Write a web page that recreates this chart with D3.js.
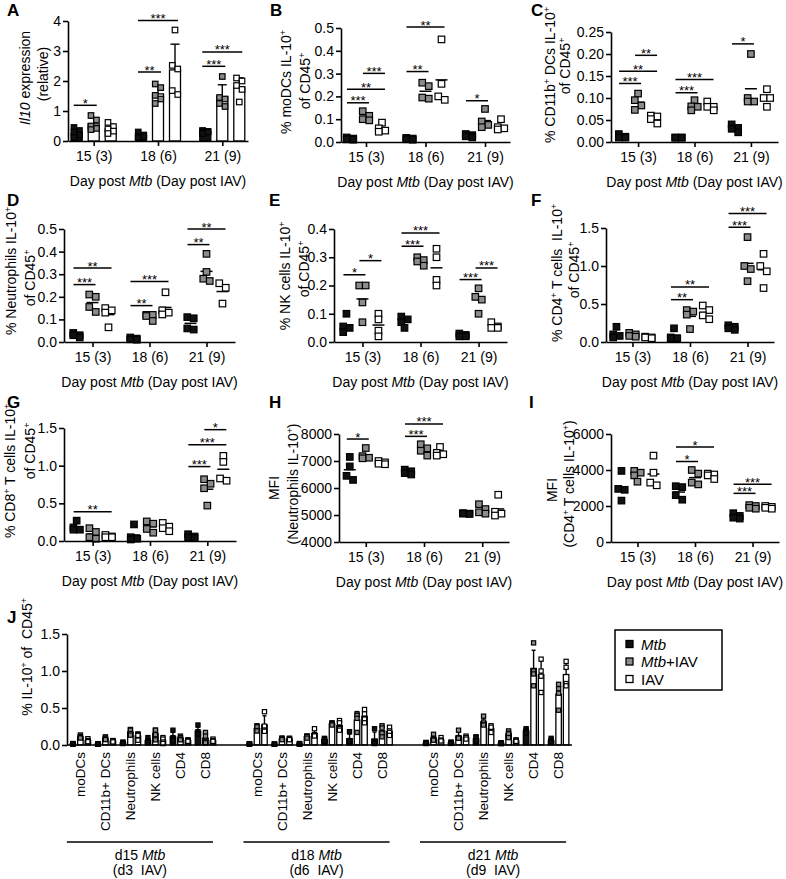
<!DOCTYPE html>
<html><head><meta charset="utf-8">
<script src="https://cdn.jsdelivr.net/npm/d3@7/dist/d3.min.js"></script>
<style>html,body{margin:0;padding:0;background:#fff}svg{display:block}</style>
</head><body>
<svg id="fig" width="786" height="879" xmlns="http://www.w3.org/2000/svg"></svg>
<script>
// ---------- categories / ticks ----------
const days = ["15 (3)", "18 (6)", "21 (9)"];
const groupNames = ["Mtb", "Mtb+IAV", "IAV"];
const cellTypes = ["moDCs", "CD11b+ DCs", "Neutrophils", "NK cells", "CD4", "CD8"];
const ticksA = [0, 1, 2, 3, 4];
const ticksB = [0, 0.1, 0.2, 0.3, 0.4, 0.5];
const ticksC = [0, 0.05, 0.10, 0.15, 0.20, 0.25];
const ticksD = [0, 0.1, 0.2, 0.3, 0.4, 0.5];
const ticksE = [0, 0.1, 0.2, 0.3, 0.4];
const ticksF = [0, 0.5, 1.0, 1.5];
const ticksG = [0, 0.5, 1.0, 1.5];
const ticksH = [4000, 5000, 6000, 7000, 8000];
const ticksI = [0, 2000, 4000, 6000];
const ticksJ = [0, 0.5, 1.0, 1.5];

// ---------- data: per day [15(3), 18(6), 21(9)] -> replicate values ----------
// A: Il10 expression (relative)
const il10_Mtb    = [[0.45,0.35,0.3,0.2,0.12],[0.3,0.2,0.15,0.12,0.15],[0.35,0.3,0.3,0.25,0.32]];
const il10_MtbIAV = [[0.85,0.7,0.5,0.42,0.38],[1.9,1.78,1.52,1.25,1.4],[2.15,1.45,1.4,1.25,1.15]];
const il10_IAV    = [[0.62,0.48,0.4,0.33,0.25],[3.7,2.52,2.4,1.68,1.55],[2.1,2.0,1.85,1.72,1.3]];
// B: % moDCs IL-10+ of CD45+
const mo_Mtb    = [[0.01,0.015,0.02,0.012],[0.015,0.012,0.01,0.018],[0.02,0.03,0.035,0.025]];
const mo_MtbIAV = [[0.135,0.115,0.1,0.095],[0.26,0.245,0.195,0.19],[0.145,0.09,0.075,0.065]];
const mo_IAV    = [[0.085,0.06,0.05,0.045],[0.45,0.255,0.2,0.185],[0.1,0.065,0.06,0.055]];
// C: % CD11b+ DCs IL-10+ of CD45+
const cd11_Mtb    = [[0.01,0.012,0.018,0.01],[0.01,0.01,0.01,0.01],[0.04,0.032,0.03,0.022]];
const cd11_MtbIAV = [[0.11,0.095,0.083,0.073],[0.095,0.081,0.08,0.072],[0.2,0.1,0.092,0.092]];
const cd11_IAV    = [[0.06,0.058,0.052,0.042],[0.092,0.08,0.08,0.072],[0.12,0.1,0.1,0.08]];
// D: % Neutrophils IL-10+ of CD45+
const neu_Mtb    = [[0.04,0.03,0.03,0.02],[0.01,0.015,0.02,0.012],[0.11,0.105,0.06,0.055]];
const neu_MtbIAV = [[0.21,0.2,0.155,0.133],[0.12,0.12,0.115,0.093],[0.39,0.31,0.28,0.27]];
const neu_IAV    = [[0.15,0.14,0.13,0.065],[0.22,0.14,0.13,0.122],[0.26,0.24,0.17]];
// E: % NK cells IL-10+ of CD45+
const nk_Mtb    = [[0.1,0.055,0.05,0.035],[0.09,0.08,0.07,0.05],[0.03,0.02,0.02,0.025]];
const nk_MtbIAV = [[0.2,0.2,0.14,0.07],[0.3,0.29,0.285,0.27],[0.19,0.16,0.15,0.1]];
const nk_IAV    = [[0.1,0.08,0.04,0.02],[0.33,0.3,0.22,0.2],[0.07,0.055,0.05,0.05]];
// F: % CD4+ T cells IL-10+ of CD45+
const cd4_Mtb    = [[0.2,0.1,0.08,0.06],[0.18,0.06,0.05,0.05],[0.22,0.2,0.18,0.16]];
const cd4_MtbIAV = [[0.12,0.1,0.08,0.07],[0.42,0.4,0.36,0.17],[1.38,1.0,0.96,0.8]];
const cd4_IAV    = [[0.07,0.06,0.06,0.05],[0.48,0.42,0.35,0.3],[1.16,1.0,0.93,0.71]];
// G: % CD8+ T cells IL-10+ of CD45+
const cd8_Mtb    = [[0.27,0.18,0.15,0.15],[0.22,0.05,0.03,0.02],[0.09,0.06,0.05,0.04]];
const cd8_MtbIAV = [[0.17,0.12,0.05,0.03],[0.26,0.23,0.16,0.11],[0.82,0.76,0.7,0.47]];
const cd8_IAV    = [[0.08,0.06,0.05,0.05],[0.24,0.19,0.17,0.13],[1.13,1.05,0.83,0.8]];
// H: MFI (Neutrophils IL-10+)
const mfiNeu_Mtb    = [[7150,6800,6450,6300],[6680,6620,6550,6500],[5070,5050,5050,5040]];
const mfiNeu_MtbIAV = [[7480,7180,7120,7100],[7620,7470,7380,7200],[5400,5220,5100,5050]];
const mfiNeu_IAV    = [[7000,6950,6900,6880],[7520,7300,7250,7200],[5750,5120,5050,4980]];
// I: MFI (CD4+ T cells IL-10+)
const mfiCd4_Mtb    = [[3950,2950,2900,2300],[3100,3050,2600,2350],[1600,1450,1350,1300]];
const mfiCd4_MtbIAV = [[3950,3850,3700,3350],[4000,3800,3300,3200],[2050,2000,1900,1850]];
const mfiCd4_IAV    = [[4800,3850,3300,3150],[3800,3750,3700,3500],[2000,1950,1900,1850]];

// significance: [dayIndex, fromGroup, toGroup, level (data units), label]
const sigA = [[0,0,1,1.19,"*"],[1,0,1,2.3,"**"],[1,0,2,4.02,"***"],[2,0,1,2.49,"***"],[2,0,2,2.97,"***"]];
const sigB = [[0,0,1,0.172,"***"],[0,0,2,0.231,"**"],[0,1,2,0.301,"***"],[1,0,1,0.309,"**"],[1,0,2,0.504,"**"],[2,0,1,0.181,"*"]];
const sigC = [[0,0,1,0.133,"***"],[0,0,2,0.161,"**"],[0,1,2,0.197,"**"],[1,0,1,0.112,"***"],[1,0,2,0.142,"***"],[2,0,1,0.223,"*"]];
const sigD = [[0,0,1,0.254,"***"],[0,0,2,0.327,"**"],[1,0,1,0.161,"**"],[1,0,2,0.268,"***"],[2,0,1,0.431,"**"],[2,0,2,0.5,"**"]];
const sigE = [[0,0,1,0.238,"*"],[0,1,2,0.288,"*"],[1,0,1,0.339,"***"],[1,0,2,0.386,"***"],[2,0,1,0.221,"***"],[2,1,2,0.262,"***"]];
const sigF = [[1,0,1,0.557,"**"],[1,0,2,0.724,"**"],[2,0,1,1.51,"***"],[2,0,2,1.69,"***"]];
const sigG = [[0,0,2,0.387,"**"],[2,0,1,0.988,"***"],[2,0,2,1.277,"***"],[2,1,2,1.478,"*"]];
const sigH = [[0,0,1,7814,"*"],[1,0,1,7913,"***"],[1,0,2,8373,"***"]];
const sigI = [[1,0,1,4472,"*"],[1,0,2,5273,"*"],[2,0,1,2702,"***"],[2,0,2,3205,"***"]];

// J groups (bottom labels)
const jGroupLabels = [["d15 ","Mtb","(d3  IAV)"],["d18 ","Mtb","(d6  IAV)"],["d21 ","Mtb","(d9  IAV)"]];

// ---------- rendering ----------
const FONT = "'Liberation Sans', Arial, Helvetica, sans-serif";
const FS = 14;
const fills = ["#111", "#8c8c8c", "#ffffff"];
const svg = d3.select("#fig").attr("font-family", FONT);

function rich(textSel, segs, size) {
  segs.forEach((s, i) => {
    const t = textSel.append("tspan").text(s.t);
    if (s.i) t.attr("font-style", "italic");
    if (s.sup) t.attr("dy", -size * 0.38).attr("font-size", size * 0.62);
    else if (i > 0 && segs[i - 1].sup) t.attr("dy", size * 0.38);
  });
}
function styleAxis(a) {
  a.attr("font-size", null).attr("font-family", null);
  a.select(".domain").attr("stroke", "#000").attr("stroke-width", 1.6);
  a.selectAll(".tick line").attr("stroke", "#000").attr("stroke-width", 1.6);
  a.selectAll(".tick text").attr("font-size", FS).attr("fill", "#000");
}
function swarm(vals, y, cx, size) {
  const order = vals.map(v => ({ py: y(v) })).sort((a, b) => a.py - b.py);
  const clusters = []; let cur = [];
  order.forEach(o => {
    if (cur.length && o.py - cur[cur.length - 1].py > size * 0.85) { clusters.push(cur); cur = []; }
    cur.push(o);
  });
  if (cur.length) clusters.push(cur);
  const out = [];
  clusters.forEach(c => {
    if (c.length === 1) out.push([cx, c[0].py]);
    else c.forEach((o, k) => out.push([cx + (k % 2 ? 1 : -1) * size * 0.5, o.py]));
  });
  return out;
}
function points(g, pts, s, size) {
  g.selectAll(null).data(pts).enter().append("rect")
    .attr("x", d => d[0] - size / 2).attr("y", d => d[1] - size / 2)
    .attr("width", size).attr("height", size)
    .attr("fill", fills[s]).attr("stroke", "#000").attr("stroke-width", 1.2);
}
function barSet(g, cx, vals, y, s, o) {
  const m = d3.mean(vals), sd = d3.deviation(vals) || 0;
  const y0 = y(y.domain()[0]);
  g.append("rect").attr("x", cx - o.bw / 2).attr("y", y(m)).attr("width", o.bw).attr("height", y0 - y(m))
    .attr("fill", s === 0 ? "#111" : "#fff").attr("stroke", "#000").attr("stroke-width", 1.3);
  g.append("line").attr("x1", cx).attr("x2", cx).attr("y1", y(m)).attr("y2", y(m + sd)).attr("stroke", "#000").attr("stroke-width", 1.4);
  g.append("line").attr("x1", cx - o.cap / 2).attr("x2", cx + o.cap / 2).attr("y1", y(m + sd)).attr("y2", y(m + sd)).attr("stroke", "#000").attr("stroke-width", 1.4);
  const pts = o.jitter ? swarm(vals, y, cx, o.pt) : vals.map(v => [cx, y(v)]);
  points(g, pts, s, o.pt);
}
function scatterSet(g, cx, vals, y, s) {
  const m = d3.mean(vals);
  g.append("line").attr("x1", cx - 6).attr("x2", cx + 6).attr("y1", y(m)).attr("y2", y(m)).attr("stroke", "#000").attr("stroke-width", 1.5);
  points(g, swarm(vals, y, cx, 6.5), s, 6.5);
}

const panels = [
  { id: "A", lx: 7, ly: 16, x0: 68, x1: 248, yTop: 21, yBot: 141, dom: [0, 4], ticks: ticksA, fmt: "d", pad: 0.4, kind: "bar",
    series: [il10_Mtb, il10_MtbIAV, il10_IAV], sig: sigA,
    t1: [{ t: "Il10", i: true }, { t: " expression" }], t2: [{ t: "(relative)" }], tx1: 25, ty1: 78, tx2: 43, ty2: 74 },
  { id: "B", lx: 270, ly: 16, x0: 341, x1: 510, yTop: 28, yBot: 142, dom: [0, 0.5], ticks: ticksB, fmt: ".1f", pad: 0.42,
    series: [mo_Mtb, mo_MtbIAV, mo_IAV], sig: sigB,
    t1: [{ t: "% moDCs IL-10" }, { t: "+", sup: true }], t2: [{ t: "of CD45" }, { t: "+", sup: true }], tx1: 286, ty1: 82, tx2: 305, ty2: 81 },
  { id: "C", lx: 531, ly: 16, x0: 611, x1: 778, yTop: 32, yBot: 142, dom: [0, 0.25], ticks: ticksC, fmt: ".2f", pad: 0.48,
    series: [cd11_Mtb, cd11_MtbIAV, cd11_IAV], sig: sigC,
    t1: [{ t: "% CD11b" }, { t: "+", sup: true }, { t: " DCs IL-10" }, { t: "+", sup: true }], t2: [{ t: "of CD45" }, { t: "+", sup: true }], tx1: 550, ty1: 75, tx2: 565, ty2: 66 },
  { id: "D", lx: 7, ly: 206, x0: 64, x1: 235, yTop: 229, yBot: 342, dom: [0, 0.5], ticks: ticksD, fmt: ".1f", pad: 0.5,
    series: [neu_Mtb, neu_MtbIAV, neu_IAV], sig: sigD,
    t1: [{ t: "% Neutrophils IL-10" }, { t: "+", sup: true }], t2: [{ t: "of CD45" }, { t: "+", sup: true }], tx1: 11, ty1: 271, tx2: 30, ty2: 278 },
  { id: "E", lx: 269, ly: 206, x0: 334, x1: 507, yTop: 229, yBot: 342, dom: [0, 0.4], ticks: ticksE, fmt: ".1f", pad: 0.49,
    series: [nk_Mtb, nk_MtbIAV, nk_IAV], sig: sigE,
    t1: [{ t: "% NK cells IL-10" }, { t: "+", sup: true }], t2: [{ t: "of CD45" }, { t: "+", sup: true }], tx1: 285, ty1: 276, tx2: 304, ty2: 269 },
  { id: "F", lx: 531, ly: 206, x0: 606, x1: 774, yTop: 228, yBot: 342, dom: [0, 1.5], ticks: ticksF, fmt: ".1f", pad: 0.46,
    series: [cd4_Mtb, cd4_MtbIAV, cd4_IAV], sig: sigF,
    t1: [{ t: "% CD4" }, { t: "+", sup: true }, { t: " T cells  IL-10" }, { t: "+", sup: true }], t2: [{ t: "of CD45" }, { t: "+", sup: true }], tx1: 557, ty1: 273, tx2: 574, ty2: 270 },
  { id: "G", lx: 7, ly: 408, x0: 64, x1: 236, yTop: 428, yBot: 541, dom: [0, 1.5], ticks: ticksG, fmt: ".1f", pad: 0.5,
    series: [cd8_Mtb, cd8_MtbIAV, cd8_IAV], sig: sigG,
    t1: [{ t: "% CD8" }, { t: "+", sup: true }, { t: " T cells IL-10" }, { t: "+", sup: true }], t2: [{ t: "of CD45" }, { t: "+", sup: true }], tx1: 10, ty1: 471, tx2: 30, ty2: 451 },
  { id: "H", lx: 269, ly: 408, x0: 339, x1: 509, yTop: 434, yBot: 542, dom: [4000, 8000], ticks: ticksH, fmt: "d", pad: 0.46,
    series: [mfiNeu_Mtb, mfiNeu_MtbIAV, mfiNeu_IAV], sig: sigH,
    t1: [{ t: "MFI" }], t2: [{ t: "(Neutrophils IL-10" }, { t: "+", sup: true }, { t: ")" }], tx1: 274, ty1: 488, tx2: 293, ty2: 484 },
  { id: "I", lx: 529, ly: 408, x0: 611, x1: 779, yTop: 434, yBot: 542, dom: [0, 6000], ticks: ticksI, fmt: "d", pad: 0.46,
    series: [mfiCd4_Mtb, mfiCd4_MtbIAV, mfiCd4_IAV], sig: sigI,
    t1: [{ t: "MFI" }], t2: [{ t: "(CD4" }, { t: "+", sup: true }, { t: " T cells IL-10" }, { t: "+", sup: true }, { t: ")" }], tx1: 552, ty1: 490, tx2: 569, ty2: 484 }
];

// rotated title: measured and centred explicitly on (x, y)
function yTitle(g, segs, x, y) {
  const t = g.append("text").attr("transform", `translate(${x},${y}) rotate(-90)`)
    .attr("text-anchor", "start").attr("font-size", FS).attr("fill", "#000")
    .style("white-space", "pre");
  rich(t, segs, FS);
  const len = t.node().getComputedTextLength();
  t.attr("x", -len / 2).attr("y", FS * 0.36);
}
function letter(id, x, y) {
  svg.append("text").attr("x", x).attr("y", y).attr("font-size", 17).attr("font-weight", "bold").attr("fill", "#000").text(id);
}

panels.forEach(P => {
  const g = svg.append("g");
  const x = d3.scalePoint().domain(days).range([P.x0, P.x1]).padding(P.pad);
  const y = d3.scaleLinear().domain(P.dom).range([P.yBot, P.yTop]);
  letter(P.id, P.lx, P.ly);
  const off = P.kind === "bar" ? 17 : 16;

  P.series.forEach((arr, s) => arr.forEach((vals, d) => {
    const cx = x(days[d]) + (s - 1) * off;
    if (P.kind === "bar") barSet(g, cx, vals, y, s, { bw: 11, cap: 9, pt: 5.5, jitter: true });
    else scatterSet(g, cx, vals, y, s);
  }));

  const ya = g.append("g").attr("transform", `translate(${P.x0},0)`)
    .call(d3.axisLeft(y).tickValues(P.ticks).tickFormat(d3.format(P.fmt)).tickSize(5).tickSizeOuter(0).tickPadding(2));
  styleAxis(ya);
  const xa = g.append("g").attr("transform", `translate(0,${P.yBot})`)
    .call(d3.axisBottom(x).tickSize(5).tickSizeOuter(0).tickPadding(5));
  styleAxis(xa);

  P.sig.forEach(([d, a, b, lvl, lab]) => {
    const xa1 = x(days[d]) + (a - 1) * off - 3, xb1 = x(days[d]) + (b - 1) * off + 3;
    const yy = y(lvl);
    g.append("line").attr("x1", xa1).attr("x2", xb1).attr("y1", yy).attr("y2", yy).attr("stroke", "#000").attr("stroke-width", 1.5);
    g.append("text").attr("x", (xa1 + xb1) / 2).attr("y", yy + 2.5).attr("text-anchor", "middle").attr("font-size", 13).attr("fill", "#000").text(lab);
  });

  yTitle(g, P.t1, P.tx1, P.ty1);
  yTitle(g, P.t2, P.tx2, P.ty2);
  const xt = g.append("text").attr("x", (P.x0 + P.x1) / 2).attr("y", P.yBot + 45).attr("text-anchor", "middle").attr("font-size", FS).attr("fill", "#000");
  rich(xt, [{ t: "Day post " }, { t: "Mtb", i: true }, { t: " (Day post IAV)" }], FS);
});

// ---------- Panel J ----------
(function () {
  const J = { x0: 67, x1: 572, yTop: 634, yBot: 745 };
  const cellData = [
    [mo_Mtb, mo_MtbIAV, mo_IAV], [cd11_Mtb, cd11_MtbIAV, cd11_IAV], [neu_Mtb, neu_MtbIAV, neu_IAV],
    [nk_Mtb, nk_MtbIAV, nk_IAV], [cd4_Mtb, cd4_MtbIAV, cd4_IAV], [cd8_Mtb, cd8_MtbIAV, cd8_IAV]
  ];
  const g = svg.append("g");
  letter("J", 7, 623);
  const outer = d3.scaleBand().domain(d3.range(days.length)).range([J.x0, J.x1]).paddingInner(0.15).paddingOuter(0.005);
  const inner = d3.scaleBand().domain(cellTypes).range([0, outer.bandwidth()]);
  const y = d3.scaleLinear().domain([0, 1.5]).range([J.yBot, J.yTop]);

  days.forEach((day, d) => {
    cellTypes.forEach((c, k) => {
      const cx = outer(d) + inner(c) + inner.bandwidth() / 2;
      cellData[k].forEach((arr, s) => barSet(g, cx + (s - 1) * 7.5, arr[d], y, s, { bw: 5.5, cap: 4, pt: 4.2, jitter: false }));
      g.append("text").attr("transform", `translate(${cx},752) rotate(-90)`).attr("text-anchor", "end").attr("dy", "0.36em")
        .attr("font-size", 13.5).attr("fill", "#000").text(c);
    });
    const gx0 = outer(d) - 1, gx1 = outer(d) + outer.bandwidth() - 5;
    g.append("line").attr("x1", gx0).attr("x2", gx1).attr("y1", 842).attr("y2", 842).attr("stroke", "#000").attr("stroke-width", 1.5);
    const lab = jGroupLabels[d];
    const t1 = g.append("text").attr("x", (gx0 + gx1) / 2).attr("y", 860).attr("text-anchor", "middle").attr("font-size", 14).attr("fill", "#000").style("white-space", "pre");
    rich(t1, [{ t: lab[0] }, { t: lab[1], i: true }], 14);
    g.append("text").attr("x", (gx0 + gx1) / 2).attr("y", 875).attr("text-anchor", "middle").attr("font-size", 14).attr("fill", "#000")
      .style("white-space", "pre").text(lab[2]);
  });

  const ya = g.append("g").attr("transform", `translate(${J.x0},0)`)
    .call(d3.axisLeft(y).tickValues(ticksJ).tickFormat(d3.format(".1f")).tickSize(5).tickSizeOuter(0).tickPadding(2));
  styleAxis(ya);
  g.append("line").attr("x1", J.x0).attr("x2", J.x1).attr("y1", J.yBot).attr("y2", J.yBot).attr("stroke", "#000").attr("stroke-width", 1.6);
  yTitle(g, [{ t: "% IL-10" }, { t: "+", sup: true }, { t: " of  CD45" }, { t: "+", sup: true }], 27, 657);

  // legend
  const L = g.append("g");
  L.append("rect").attr("x", 615).attr("y", 630).attr("width", 107).attr("height", 60).attr("fill", "#fff").attr("stroke", "#000").attr("stroke-width", 1.5);
  const legendLabels = [[{ t: "Mtb", i: true }], [{ t: "Mtb", i: true }, { t: "+IAV" }], [{ t: "IAV" }]];
  groupNames.forEach((n, s) => {
    const cy = 644 + s * 17.5;
    L.append("rect").attr("x", 626).attr("y", cy - 3.5).attr("width", 7).attr("height", 7).attr("fill", fills[s]).attr("stroke", "#000").attr("stroke-width", 1.3);
    const t = L.append("text").attr("x", 641).attr("y", cy + 5.5).attr("font-size", 15).attr("fill", "#000");
    rich(t, legendLabels[s], 15);
  });
})();
</script>
</body></html>
